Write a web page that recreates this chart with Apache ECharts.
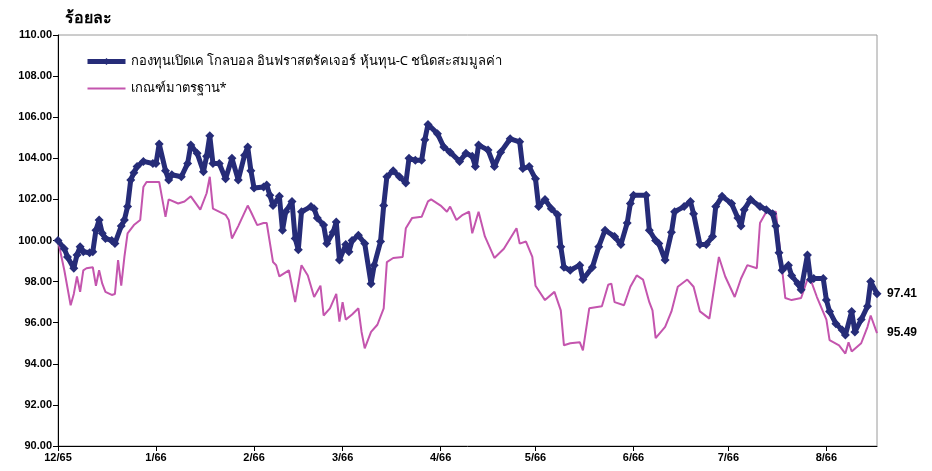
<!DOCTYPE html>
<html>
<head>
<meta charset="utf-8">
<script src="https://cdn.jsdelivr.net/npm/echarts@6/dist/echarts.min.js"></script>
<style>html,body{margin:0;padding:0;background:#fff}#c{width:932px;height:471px}</style>
</head>
<body>
<div id="c"></div>
<script>
const fundName = 'กองทุนเปิดเค โกลบอล อินฟราสตรัคเจอร์ หุ้นทุน-C ชนิดสะสมมูลค่า';
const benchName = 'เกณฑ์มาตรฐาน*';
const xTickDates = ['2022-12-01','2023-01-01','2023-02-01','2023-03-01','2023-04-01','2023-05-01','2023-06-01','2023-07-01','2023-08-01'];
const xTickLabels = ['12/65','1/66','2/66','3/66','4/66','5/66','6/66','7/66','8/66'];
const xStart = '2022-12-01';
const xEnd = '2023-08-17';

const fundDates = ['2022-12-01','2022-12-03','2022-12-04','2022-12-06','2022-12-07','2022-12-08','2022-12-09','2022-12-11','2022-12-12','2022-12-13','2022-12-14','2022-12-15','2022-12-16','2022-12-18','2022-12-19','2022-12-21','2022-12-22','2022-12-23','2022-12-24','2022-12-25','2022-12-26','2022-12-28','2022-12-31',
'2023-01-01','2023-01-02','2023-01-04','2023-01-05','2023-01-06','2023-01-09','2023-01-11','2023-01-12','2023-01-14','2023-01-16','2023-01-17','2023-01-18','2023-01-19','2023-01-21','2023-01-23','2023-01-25','2023-01-27','2023-01-29','2023-01-30','2023-01-31',
'2023-02-01','2023-02-04','2023-02-05','2023-02-06','2023-02-07','2023-02-09','2023-02-10','2023-02-11','2023-02-13','2023-02-14','2023-02-15','2023-02-16','2023-02-19','2023-02-20','2023-02-21','2023-02-23','2023-02-24','2023-02-26','2023-02-27','2023-02-28',
'2023-03-02','2023-03-03','2023-03-04','2023-03-06','2023-03-08','2023-03-10','2023-03-11','2023-03-13','2023-03-14','2023-03-15','2023-03-17','2023-03-19','2023-03-21','2023-03-22','2023-03-24','2023-03-26','2023-03-27','2023-03-28','2023-03-31',
'2023-04-02','2023-04-04','2023-04-07','2023-04-09','2023-04-11','2023-04-12','2023-04-13','2023-04-16','2023-04-18','2023-04-20','2023-04-23','2023-04-26','2023-04-27','2023-04-29',
'2023-05-01','2023-05-02','2023-05-04','2023-05-06','2023-05-08','2023-05-09','2023-05-10','2023-05-12','2023-05-15','2023-05-16','2023-05-19','2023-05-21','2023-05-23','2023-05-26','2023-05-28','2023-05-30','2023-05-31',
'2023-06-01','2023-06-05','2023-06-06','2023-06-08','2023-06-09','2023-06-11','2023-06-13','2023-06-14','2023-06-17','2023-06-19','2023-06-20','2023-06-22','2023-06-24','2023-06-26','2023-06-27','2023-06-29',
'2023-07-02','2023-07-04','2023-07-05','2023-07-06','2023-07-08','2023-07-11','2023-07-13','2023-07-15','2023-07-16','2023-07-17','2023-07-18','2023-07-20','2023-07-21','2023-07-23','2023-07-24','2023-07-26','2023-07-27','2023-07-28','2023-07-31',
'2023-08-01','2023-08-02','2023-08-04','2023-08-06','2023-08-07','2023-08-09','2023-08-10','2023-08-12','2023-08-14','2023-08-15','2023-08-17'];
const fundValues = [100.0,99.6,99.2,98.65,99.3,99.7,99.45,99.4,99.45,100.5,101.0,100.35,100.1,100.0,99.86,100.7,101.0,101.65,102.95,103.3,103.6,103.85,103.75,
103.75,104.7,103.4,102.95,103.2,103.1,103.75,104.65,104.25,103.35,104.1,105.1,103.75,103.75,103.0,104.0,102.95,104.15,104.55,103.4,
102.55,102.6,102.7,102.2,101.7,102.15,100.5,101.4,101.9,100.1,99.55,101.4,101.65,101.55,101.1,100.75,99.85,100.4,100.9,99.05,
99.8,99.45,100.0,100.25,99.85,97.9,98.8,99.95,101.7,103.1,103.4,103.1,102.8,104.0,103.9,103.9,104.9,105.65,105.2,
104.55,104.3,103.85,104.25,104.1,103.6,104.65,104.4,103.6,104.3,104.95,104.8,103.5,103.6,
103.0,101.65,102.0,101.55,101.25,99.7,98.7,98.55,98.8,98.1,98.7,99.7,100.5,100.2,99.8,100.85,101.8,
102.2,102.2,100.5,100.0,99.85,99.05,100.4,101.4,101.65,101.9,101.3,99.8,99.8,100.2,101.65,102.15,
101.8,101.1,100.7,101.5,102.0,101.65,101.5,101.3,100.7,99.4,98.55,98.8,98.3,97.9,97.6,99.3,98.1,98.15,98.15,
97.1,96.55,95.95,95.65,95.4,96.55,95.55,96.15,96.8,98.0,97.41];

const benchDates = ['2022-12-01','2022-12-03','2022-12-05','2022-12-06','2022-12-07','2022-12-08','2022-12-09','2022-12-10','2022-12-12','2022-12-13','2022-12-14','2022-12-15','2022-12-16','2022-12-18','2022-12-19','2022-12-20','2022-12-21','2022-12-22','2022-12-23','2022-12-25','2022-12-27','2022-12-28','2022-12-29',
'2023-01-02','2023-01-03','2023-01-04','2023-01-05','2023-01-08','2023-01-10','2023-01-12','2023-01-15','2023-01-17','2023-01-18','2023-01-19','2023-01-23','2023-01-24','2023-01-25','2023-01-27','2023-01-30','2023-01-31',
'2023-02-02','2023-02-04','2023-02-05','2023-02-07','2023-02-08','2023-02-09','2023-02-12','2023-02-14','2023-02-16','2023-02-18','2023-02-20','2023-02-22','2023-02-23','2023-02-25','2023-02-27','2023-02-28',
'2023-03-01','2023-03-02','2023-03-04','2023-03-06','2023-03-07','2023-03-08','2023-03-10','2023-03-12','2023-03-14','2023-03-15','2023-03-17','2023-03-20','2023-03-21','2023-03-23','2023-03-26','2023-03-28','2023-03-29',
'2023-04-01','2023-04-03','2023-04-04','2023-04-06','2023-04-08','2023-04-10','2023-04-11','2023-04-13','2023-04-15','2023-04-18','2023-04-21','2023-04-25','2023-04-26','2023-04-28','2023-04-30',
'2023-05-01','2023-05-04','2023-05-07','2023-05-09','2023-05-10','2023-05-12','2023-05-15','2023-05-16','2023-05-18','2023-05-22','2023-05-24','2023-05-25','2023-05-26','2023-05-29','2023-05-31',
'2023-06-02','2023-06-04','2023-06-06','2023-06-07','2023-06-08','2023-06-11','2023-06-13','2023-06-15','2023-06-18','2023-06-20','2023-06-22','2023-06-25','2023-06-28','2023-06-30',
'2023-07-03','2023-07-05','2023-07-07','2023-07-10','2023-07-11','2023-07-13','2023-07-16','2023-07-17','2023-07-19','2023-07-21','2023-07-24','2023-07-26','2023-07-27','2023-07-29',
'2023-08-01','2023-08-02','2023-08-05','2023-08-07','2023-08-08','2023-08-09','2023-08-12','2023-08-14','2023-08-15','2023-08-17'];
const benchValues = [100.0,98.55,96.85,97.4,98.25,97.5,98.55,98.65,98.7,97.8,98.55,97.9,97.5,97.35,97.4,99.05,97.8,99.2,100.35,100.75,101.0,102.6,102.85,
102.85,102.0,101.15,102.0,101.8,101.9,102.15,101.5,102.3,103.1,101.55,101.25,101.0,100.1,100.7,101.7,101.4,
100.75,100.85,100.85,98.95,98.8,98.25,98.55,97.0,98.8,98.3,97.25,97.8,96.35,96.7,97.4,96.05,
97.0,96.15,96.4,96.7,95.55,94.75,95.55,95.9,96.7,98.95,99.15,99.2,100.6,101.1,101.15,101.9,102.0,
101.7,101.4,101.65,101.0,101.25,101.4,100.35,101.4,100.2,99.15,99.6,100.6,99.85,99.95,99.2,
97.8,97.1,97.5,96.6,94.9,95.0,95.05,94.65,96.7,96.8,97.85,97.9,97.0,96.85,97.75,
98.3,98.1,97.0,96.6,95.25,95.8,96.55,97.75,98.1,97.75,96.55,96.2,99.2,98.25,
97.25,98.15,98.8,98.65,100.85,101.4,101.4,100.0,97.2,97.1,97.2,98.1,98.1,97.25,
96.15,95.15,94.9,94.5,95.05,94.6,95.0,95.8,96.35,95.49];

const yMin = 90, yMax = 110, yStep = 2;

const toTs = s => Date.parse(s);
const fundData = fundDates.map((d, i) => [toTs(d), fundValues[i]]);
const benchData = benchDates.map((d, i) => [toTs(d), benchValues[i]]);
const tickTs = xTickDates.map(toTs);

const fundColor = '#262C78';
const benchColor = '#C455AE';

const chart = echarts.init(document.getElementById('c'), null, {renderer: 'canvas'});
const axisFont = {fontFamily: '"Liberation Sans", Arial, sans-serif', fontWeight: 'bold', fontSize: 11, color: '#000'};
chart.setOption({
  animation: false,
  backgroundColor: '#fff',
  title: {
    text: 'ร้อยละ', left: 60, top: 5,
    textStyle: {fontFamily: 'Tahoma, "Noto Sans", sans-serif', fontWeight: 'bold', fontSize: 16, color: '#000'}
  },
  legend: {
    orient: 'vertical', left: 80, top: 50, itemGap: 14, itemWidth: 38, itemHeight: 9,
    textStyle: {fontFamily: 'Tahoma, "Noto Sans", sans-serif', fontSize: 13, color: '#000'},
    data: [
      {name: fundName, lineStyle: {width: 5}},
      {name: benchName, icon: 'path://M0,0 L38,0 L38,2.2 L0,2.2 Z'}
    ]
  },
  grid: {left: 58, right: 55, top: 35, bottom: 25, show: true, borderColor: '#9a9a9a', borderWidth: 1, containLabel: false},
  xAxis: {
    type: 'value', min: toTs(xStart), max: toTs(xEnd),
    axisLine: {show: true, lineStyle: {color: '#000', width: 1}},
    axisTick: {show: true, customValues: tickTs, length: 5, lineStyle: {color: '#000'}},
    axisLabel: {show: true, customValues: tickTs, margin: 6, ...axisFont,
      formatter: v => { const i = tickTs.indexOf(v); return i >= 0 ? xTickLabels[i] : ''; }},
    splitLine: {show: false}
  },
  yAxis: {
    type: 'value', min: yMin, max: yMax, interval: yStep,
    axisLine: {show: true, lineStyle: {color: '#000', width: 1}},
    axisTick: {show: true, length: 5, lineStyle: {color: '#000'}},
    axisLabel: {margin: 6, ...axisFont, formatter: v => v.toFixed(2)},
    splitLine: {show: false}
  },
  series: [
    {
      name: benchName, type: 'line', data: benchData, symbol: 'none', z: 2,
      lineStyle: {color: benchColor, width: 2}, itemStyle: {color: benchColor},
      endLabel: {show: true, distance: 10, formatter: p => p.value[1].toFixed(2),
        fontFamily: '"Liberation Sans", Arial, sans-serif', fontWeight: 'bold', fontSize: 12, color: '#000'}
    },
    {
      name: fundName, type: 'line', data: fundData, symbol: 'diamond', symbolSize: 9, showAllSymbol: true, z: 3,
      lineStyle: {color: fundColor, width: 5}, itemStyle: {color: fundColor},
      endLabel: {show: true, distance: 10, formatter: p => p.value[1].toFixed(2),
        fontFamily: '"Liberation Sans", Arial, sans-serif', fontWeight: 'bold', fontSize: 12, color: '#000'}
    }
  ]
});
</script>
</body>
</html>
